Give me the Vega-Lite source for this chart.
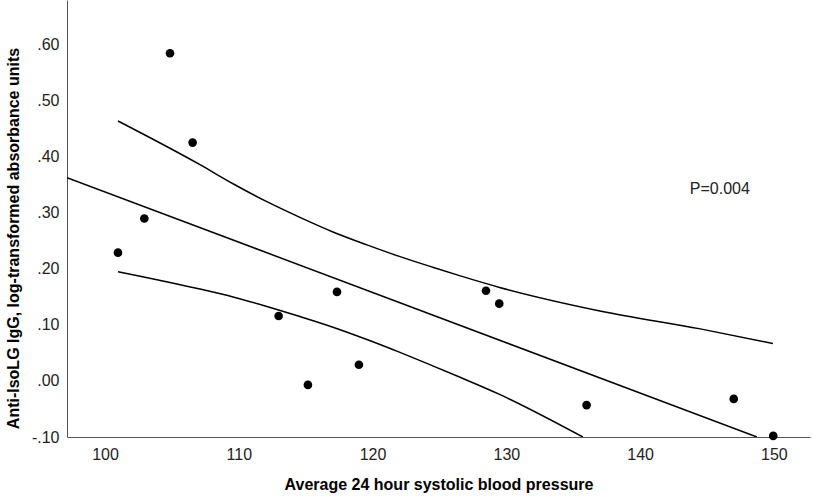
{
  "$schema": "https://vega.github.io/schema/vega-lite/v6.json",
  "description": "Anti-IsoLG IgG vs average 24 hour systolic blood pressure, with fit line and 95% CI curves.",
  "width": 743,
  "height": 437,
  "autosize": {"type": "none"},
  "padding": {"left": 67, "top": 0, "right": 3, "bottom": 64},
  "background": "white",
  "datasets": {
    "points": [
      {"sbp": 100.97, "igg": 0.229},
      {"sbp": 102.94, "igg": 0.29},
      {"sbp": 104.86, "igg": 0.585},
      {"sbp": 106.55, "igg": 0.4255},
      {"sbp": 112.98, "igg": 0.116},
      {"sbp": 115.17, "igg": -0.007},
      {"sbp": 117.34, "igg": 0.159},
      {"sbp": 118.98, "igg": 0.029},
      {"sbp": 128.48, "igg": 0.161},
      {"sbp": 129.47, "igg": 0.138},
      {"sbp": 136.0, "igg": -0.043},
      {"sbp": 147.0, "igg": -0.032},
      {"sbp": 149.95, "igg": -0.098}
    ],
    "curves": [
      {"series": "fit", "sbp": 97.16, "igg": 0.363},
      {"series": "fit", "sbp": 148.73, "igg": -0.1},
      {"series": "upper", "sbp": 100.97, "igg": 0.464},
      {"series": "upper", "sbp": 107.1, "igg": 0.386},
      {"series": "upper", "sbp": 109.57, "igg": 0.352},
      {"series": "upper", "sbp": 112.1, "igg": 0.32},
      {"series": "upper", "sbp": 114.57, "igg": 0.292},
      {"series": "upper", "sbp": 117.04, "igg": 0.266},
      {"series": "upper", "sbp": 119.58, "igg": 0.243},
      {"series": "upper", "sbp": 122.05, "igg": 0.222},
      {"series": "upper", "sbp": 124.5, "igg": 0.203},
      {"series": "upper", "sbp": 126.5, "igg": 0.188},
      {"series": "upper", "sbp": 129.5, "igg": 0.167},
      {"series": "upper", "sbp": 137.0, "igg": 0.125},
      {"series": "upper", "sbp": 144.5, "igg": 0.093},
      {"series": "upper", "sbp": 149.93, "igg": 0.067},
      {"series": "lower", "sbp": 100.97, "igg": 0.195},
      {"series": "lower", "sbp": 107.1, "igg": 0.164},
      {"series": "lower", "sbp": 109.57, "igg": 0.15},
      {"series": "lower", "sbp": 112.1, "igg": 0.133},
      {"series": "lower", "sbp": 114.57, "igg": 0.115},
      {"series": "lower", "sbp": 117.04, "igg": 0.096},
      {"series": "lower", "sbp": 119.58, "igg": 0.074},
      {"series": "lower", "sbp": 122.05, "igg": 0.051},
      {"series": "lower", "sbp": 124.5, "igg": 0.027},
      {"series": "lower", "sbp": 126.5, "igg": 0.007},
      {"series": "lower", "sbp": 129.5, "igg": -0.024},
      {"series": "lower", "sbp": 135.72, "igg": -0.1}
    ],
    "notes": [
      {"sbp": 145.96, "igg": 0.343, "label": "P=0.004"}
    ]
  },
  "encoding": {
    "x": {
      "field": "sbp",
      "type": "quantitative",
      "title": "Average 24 hour systolic blood pressure",
      "scale": {"domain": [97.16, 152.7], "nice": false, "zero": false},
      "axis": {"values": [100, 110, 120, 130, 140, 150], "labelPadding": 9}
    },
    "y": {
      "field": "igg",
      "type": "quantitative",
      "title": "Anti-IsoLG IgG, log-transformed absorbance units",
      "scale": {"domain": [-0.1, 0.68], "nice": false, "zero": false},
      "axis": {
        "values": [-0.1, 0, 0.1, 0.2, 0.3, 0.4, 0.5, 0.6],
        "labelExpr": "replace(replace(format(datum.value, '.2f'), '0.', '.'), '\u2212', '-')",
        "labelPadding": 8,
        "titleX": -54,
        "titleY": 238,
        "titleAngle": -90,
        "titleAlign": "center",
        "titleBaseline": "middle"
      }
    }
  },
  "layer": [
    {
      "data": {"name": "curves"},
      "mark": {"type": "line", "color": "black", "strokeWidth": 1.5, "clip": true, "interpolate": "monotone"},
      "encoding": {"detail": {"field": "series", "type": "nominal"}}
    },
    {
      "data": {"name": "points"},
      "mark": {"type": "point", "filled": true, "color": "black", "size": 75, "opacity": 1}
    },
    {
      "data": {"name": "notes"},
      "mark": {"type": "text", "font": "Liberation Sans", "fontSize": 16, "color": "#222", "align": "center", "baseline": "middle"},
      "encoding": {"text": {"field": "label"}}
    }
  ],
  "config": {
    "view": {"stroke": null},
    "font": "Liberation Sans",
    "axis": {
      "grid": false,
      "ticks": false,
      "domainColor": "#555",
      "domainWidth": 1,
      "labelFont": "Liberation Sans",
      "labelFontSize": 16,
      "labelColor": "#222",
      "titleFont": "Liberation Sans",
      "titleFontSize": 16,
      "titleFontWeight": "bold",
      "titleColor": "black"
    },
    "axisX": {"titlePadding": 14}
  }
}
